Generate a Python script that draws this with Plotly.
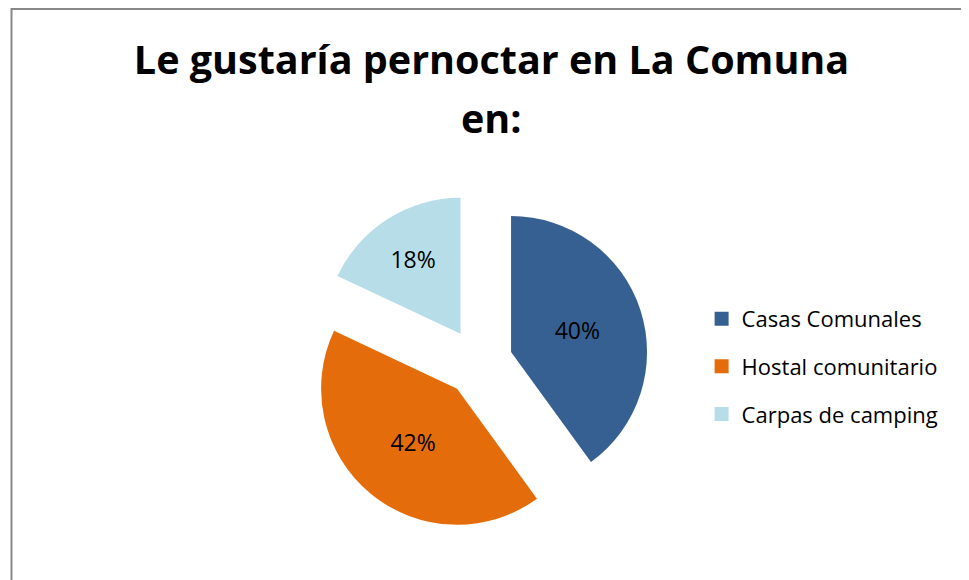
import plotly.graph_objects as go

labels = ["Casas Comunales", "Hostal comunitario", "Carpas de camping"]
values = [40, 42, 18]
colors = ["#376092", "#E46C0A", "#B7DEE8"]

title_line1 = "Le gustaría pernoctar en La Comuna"
title_line2 = "en:"
font_family = "Open Sans"

fig = go.Figure()

fig.add_trace(
    go.Pie(
        labels=labels,
        values=values,
        sort=False,
        direction="clockwise",
        rotation=0,
        pull=[0.25, 0.25, 0.25],
        marker=dict(colors=colors, line=dict(width=0)),
        texttemplate="%{percent:.0%}",
        textposition="inside",
        insidetextorientation="horizontal",
        textfont=dict(family=font_family, size=23, color="#000000"),
        domain=dict(x=[0.3104, 0.6612], y=[0.0957, 0.6819]),
        showlegend=False,
        hoverinfo="label+percent",
    )
)

# legend entries (one group each so the rows can be spaced apart)
for name, color in zip(labels, colors):
    fig.add_trace(
        go.Scatter(
            x=[None],
            y=[None],
            mode="markers",
            name=name,
            legendgroup=name,
            marker=dict(symbol="square", size=14, color=color),
            showlegend=True,
        )
    )

title_font = dict(family=font_family, size=39.5, color="#000000", weight="bold")

fig.update_layout(
    width=969,
    height=580,
    margin=dict(l=0, r=0, t=0, b=0),
    paper_bgcolor="white",
    plot_bgcolor="white",
    title=dict(
        text=title_line1,
        x=0.499,
        xanchor="center",
        y=0.9334,
        yanchor="top",
        font=title_font,
    ),
    annotations=[
        dict(
            text=title_line2,
            xref="paper",
            yref="paper",
            x=0.499,
            xanchor="center",
            y=0.861,
            yanchor="top",
            showarrow=False,
            font=title_font,
        )
    ],
    xaxis=dict(visible=False),
    yaxis=dict(visible=False),
    legend=dict(
        x=0.7158,
        xanchor="left",
        y=0.382,
        yanchor="middle",
        tracegroupgap=16,
        font=dict(family=font_family, size=22, color="#000000"),
        bgcolor="rgba(0,0,0,0)",
    ),
    shapes=[
        dict(
            type="rect",
            xref="paper",
            yref="paper",
            x0=3.5 / 969,
            x1=1.05,
            y0=-0.05,
            y1=1 - 1 / 580,
            line=dict(color="#888888", width=2),
            fillcolor="rgba(0,0,0,0)",
        )
    ],
)

fig.write_html("out.html")
